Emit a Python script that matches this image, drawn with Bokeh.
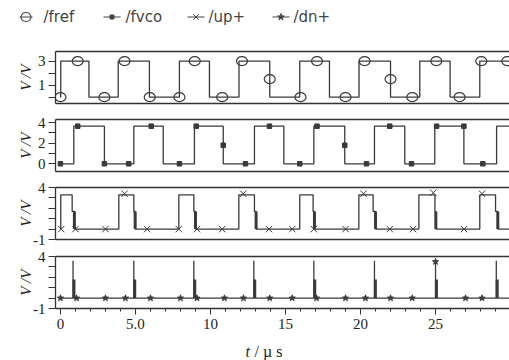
from bokeh.plotting import figure
from bokeh.models import Range1d, LinearAxis, FixedTicker
from bokeh.layouts import column
from bokeh.embed import file_html
from bokeh.resources import INLINE
from bokeh.core.properties import value

# ---------------- data ----------------
t_start, t_end = -0.33, 29.93
legend_names = ["/fref", "/fvco", "/up+", "/dn+"]
x_major = [0, 5, 10, 15, 20, 25]
x_major_labels = {0: "0", 5: "5.0", 10: "10", 15: "15", 20: "20", 25: "25"}
x_minor = list(range(0, 30))
x_title_parts = ["t", "/ µ s"]

fref_low, fref_high = 0.0, 3.0
fref_rise = [0.02, 3.85, 7.93, 11.9, 15.95, 19.9, 23.95, 27.95]
fref_fall = [1.9, 5.93, 9.93, 13.95, 17.93, 22.0, 25.97]
fref_mk_t = [0.0, 1.15, 2.93, 4.27, 5.95, 7.93, 8.95, 10.78, 12.1, 13.95,
             16.0, 17.1, 19.0, 20.27, 22.0, 23.45, 25.05, 26.6, 28.05, 29.78]
fref_mk_v = [0.0, 3.0, 0.0, 3.0, 0.0, 0.0, 3.0, 0.0, 3.0, 1.5,
             0.0, 3.0, 0.0, 3.0, 1.5, 0.0, 3.0, 0.0, 3.0, 3.0]

fvco_low, fvco_high = 0.0, 3.65
fvco_rise = [0.89, 4.89, 8.93, 12.93, 16.89, 20.93, 24.95, 29.07]
fvco_fall = [2.93, 6.85, 10.85, 14.89, 18.95, 22.95, 26.89]
fvco_mk_t = [0.0, 1.15, 2.93, 4.55, 6.05, 7.93, 9.05, 10.85, 12.33, 13.93,
             15.95, 17.1, 18.95, 20.4, 21.95, 23.4, 25.07, 26.89, 28.15]
fvco_mk_v = [0.0, 3.65, 0.0, 0.0, 3.65, 0.0, 3.65, 1.8, 0.0, 3.65,
             0.0, 3.65, 1.8, 0.0, 3.65, 0.0, 3.65, 3.65, 0.0]

up_low, up_high, up_step = 0.0, 3.3, 1.7
up_rise = [0.02, 3.89, 7.89, 11.89, 15.95, 19.89, 23.89, 27.95]
up_fall1 = [0.78, 4.89, 8.89, 12.93, 16.84, 20.84, 24.96, 29.0]
up_fall2 = [0.93, 4.98, 9.0, 13.04, 16.93, 21.0, 25.02, 29.15]
up_mk_t = [0.05, 1.0, 3.0, 4.27, 5.78, 7.89, 9.1, 10.78, 12.18, 13.9,
           15.45, 16.89, 19.0, 20.2, 21.95, 23.5, 24.85, 26.9, 28.1]
up_mk_v = [0.0, 0.0, 0.0, 3.4, 0.0, 0.0, 0.0, 0.0, 3.4, 0.0,
           0.0, 0.0, 0.0, 3.4, 0.0, 0.0, 3.5, 0.0, 3.4]

dn_low, dn_peak, dn_step = 0.0, 3.6, 1.8
dn_spike = [0.84, 4.89, 8.89, 12.89, 16.89, 20.93, 25.0, 29.05]
dn_mk_t = [0.0, 1.07, 3.0, 4.33, 6.0, 8.0, 9.1, 10.93, 12.2, 13.95,
           15.45, 17.07, 19.0, 20.33, 22.0, 23.45, 25.0, 27.0, 28.1]
dn_mk_v = [0.0, 0.0, 0.0, 0.0, 0.0, 0.0, 0.0, 0.0, 0.0, 0.0,
           0.0, 0.0, 0.0, 0.0, 0.0, 0.0, 3.5, 0.0, 0.0]

# ---------------- styling ----------------
LC = "#3a3a3a"
AX = "#333333"
TXT = "#222222"
SERIF = "Liberation Serif"
W = 509
x_range = Range1d(t_start, t_end)


def square(rises, falls, lo, hi):
    ev = sorted([(r, hi) for r in rises] + [(f, lo) for f in falls])
    xs, ys, cur = [0.0], [lo], lo
    for t, lv in ev:
        xs += [t, t]
        ys += [cur, lv]
        cur = lv
    xs.append(t_end)
    ys.append(cur)
    return xs, ys


def border_axis():
    return LinearAxis(ticker=FixedTicker(ticks=[]), axis_line_color=AX,
                      axis_line_width=1.3, major_tick_out=0, major_tick_in=0,
                      minor_tick_out=0, minor_tick_in=0, major_label_standoff=0,
                      major_tick_line_color=None, minor_tick_line_color=None,
                      major_label_text_font_size="0px")


def strip(height):
    f = figure(width=W, height=height, x_range=Range1d(0, W), y_range=Range1d(0, height),
               x_axis_type=None, y_axis_type=None, toolbar_location=None,
               output_backend="svg", min_border=0)
    f.outline_line_color = None
    return f


def panel(yr, major, minor, label_sd, height, top, bottom, last=False):
    p = figure(width=W, height=height, x_range=x_range, y_range=Range1d(*yr),
               x_axis_type=None, y_axis_type=None, toolbar_location=None,
               output_backend="svg", min_border_left=55, min_border_right=0,
               min_border_top=top, min_border_bottom=bottom)
    p.outline_line_color = None
    ya = LinearAxis(ticker=FixedTicker(ticks=major, minor_ticks=minor),
                    major_label_overrides={-1: "-1"},
                    axis_label="V /V", axis_label_text_font=SERIF,
                    axis_label_text_font_size="15px",
                    axis_label_text_font_style="italic",
                    axis_label_text_color=TXT,
                    axis_label_standoff=label_sd,
                    major_tick_out=7, major_tick_in=0,
                    minor_tick_out=7, minor_tick_in=0,
                    major_label_standoff=3,
                    major_label_text_font=SERIF,
                    major_label_text_font_size="15px",
                    major_label_text_color=TXT,
                    axis_line_color=AX, axis_line_width=1.3,
                    major_tick_line_color=AX, minor_tick_line_color=AX)
    p.add_layout(ya, "left")
    p.add_layout(border_axis(), "above")
    if not last:
        p.add_layout(border_axis(), "below")
    return p


# legend strip (0..43 px)
lg = strip(43)
yc = 43 - 16.5
lx0 = [19, 103, 187, 272]
lx1 = [32, 120, 204, 289]
lg.segment(x0=lx0, y0=[yc] * 4, x1=lx1, y1=[yc] * 4, line_color="#444444", line_width=1.2)
mcx = [(a + b) / 2 for a, b in zip(lx0, lx1)]
lg.ellipse(x=[mcx[0]], y=[yc], width=10, height=9, width_units="screen",
           height_units="screen", fill_color=None, line_color="#444444", line_width=1.1)
lg.scatter(x=[mcx[1]], y=[yc], marker="square", size=4, color="#444444")
lg.scatter(x=[mcx[2]], y=[yc], marker="x", size=8, line_color="#444444", line_width=1)
lg.scatter(x=[mcx[3]], y=[yc], marker="star", size=7, color="#444444")
lg.text(x=[43, 125, 208, 293], y=[yc] * 4, text=legend_names,
        text_font=value("DejaVu Sans"), text_font_size=value("15px"),
        text_baseline="middle", text_align="left", text_color="#444444")

# panel 1 : fref
p1 = panel((-0.53, 3.8), [1, 3], [0, 2], 1, 68, 8, 8)
xs, ys = square(fref_rise, fref_fall, fref_low, fref_high)
p1.line(xs, ys, line_color=LC, line_width=1.3)
p1.ellipse(x=fref_mk_t, y=fref_mk_v, width=11, height=9, width_units="screen",
           height_units="screen", fill_color=None, line_color=LC, line_width=1.2)

# panel 2 : fvco
p2 = panel((-0.75, 4.3), [0, 2, 4], [1, 3], 1, 68, 8, 8)
xs, ys = square(fvco_rise, fvco_fall, fvco_low, fvco_high)
p2.line(xs, ys, line_color=LC, line_width=1.3)
p2.scatter(x=fvco_mk_t, y=fvco_mk_v, marker="square", size=4.5, color=LC)

# panel 3 : up+
p3 = panel((-1, 4), [-1, 4], [0, 1, 2, 3], -4, 68, 8, 8)
ux, uy = [0.0], [up_low]
for r, f1, f2 in zip(up_rise, up_fall1, up_fall2):
    ux += [r, r, f1, f1, f2, f2]
    uy += [up_low, up_high, up_high, up_step, up_step, up_low]
ux.append(t_end)
uy.append(up_low)
p3.line(ux, uy, line_color=LC, line_width=1.3)
p3.segment(x0=up_fall2, y0=[up_low] * len(up_fall2), x1=up_fall2,
           y1=[up_step] * len(up_fall2), line_color=LC, line_width=3)
p3.scatter(x=up_mk_t, y=up_mk_v, marker="x", size=9, line_color=LC, line_width=1)

# panel 4 : dn+
p4 = panel((-1, 4), [-1, 4], [0, 1, 2, 3], -4, 93, 9, 32, last=True)
dx, dy = [0.0], [dn_low]
for s in dn_spike:
    dx += [s, s, s]
    dy += [dn_low, dn_peak, dn_low]
dx.append(t_end)
dy.append(dn_low)
p4.line(dx, dy, line_color=LC, line_width=1.3)
thick_x = [s + 0.06 for s in dn_spike]
p4.segment(x0=thick_x, y0=[dn_low] * len(thick_x), x1=thick_x,
           y1=[dn_step] * len(thick_x), line_color=LC, line_width=3)
p4.scatter(x=dn_mk_t, y=dn_mk_v, marker="star", size=6.5, color=LC)

xa = LinearAxis(ticker=FixedTicker(ticks=x_major, minor_ticks=x_minor),
                major_label_overrides=x_major_labels,
                major_tick_out=6, major_tick_in=0, minor_tick_out=3, minor_tick_in=0,
                major_label_standoff=4, major_label_text_font=SERIF,
                major_label_text_font_size="15px", major_label_text_color=TXT,
                axis_line_color=AX, axis_line_width=1.3,
                major_tick_line_color=AX, minor_tick_line_color=AX)
p4.add_layout(xa, "below")

# x-axis title strip (340..360 px)
xt = strip(20)
xt.text(x=[245], y=[9], text=[x_title_parts[0]], text_font=value(SERIF),
        text_font_size=value("16px"), text_font_style="italic",
        text_baseline="middle", text_align="left", text_color=TXT)
xt.text(x=[254], y=[9], text=[x_title_parts[1]], text_font=value(SERIF),
        text_font_size=value("16px"),
        text_baseline="middle", text_align="left", text_color=TXT)

panels = column(p1, p2, p3, p4, spacing=0)
layout = column(lg, panels, xt, spacing=0)
open("out.html", "w").write(file_html(layout, INLINE))
